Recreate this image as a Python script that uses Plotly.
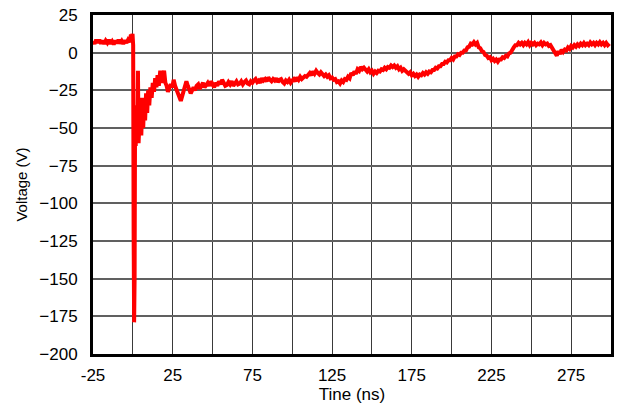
import plotly.graph_objects as go

# Early part of the record: pre-trigger baseline, spike and ringing (ns, V)
time_early = [
    -25, -24, -23, -22, -21, -20, -19, -18, -17, -16, -15, -14, -13, -12, -11, -10,
    -9, -8, -7, -6, -5, -4, -3, -2, -1.2, -0.6, -0.2, 0.2, 0.5, 0.8, 1.1, 1.4, 1.8,
    2.3, 2.8, 3.2, 3.6, 4.2, 4.8, 5.3, 5.9, 6.5, 7.1, 7.7, 8.3, 9, 9.6, 10.3, 11,
    11.8, 12.5, 13.3, 14, 14.8, 15.5, 16.3, 17.2, 18, 18.8, 19.6, 20.4, 21.2, 22,
    22.9, 23.8, 24.7, 25.6, 26.5, 27.4, 28.3, 29.2, 30.1, 30.9, 31.8, 32.7, 33.6,
    34.5, 35.4, 36.3, 37.2, 38.1, 39, 40, 41, 42, 43, 44, 45, 46, 47, 48, 49, 50,
    51, 52, 53, 54, 55, 56, 57, 58, 59,
]
volt_early = [
    7.5, 6, 8.5, 6.5, 8.5, 6, 8, 5.8, 8, 6.5, 8.5, 6, 7.5, 5.5, 8, 6.2,
    8.5, 6.2, 7.8, 5.8, 8.2, 6.5, 8.5, 7, 12, 9, 12.5, 5, -120, -179, -150, -40, -62,
    -35, -58, -12, -60, -45, -30, -55, -35, -50, -30, -45, -27, -40, -25, -35, -23,
    -30, -20, -26, -17, -23, -15, -22, -12, -20, -16, -12, -20, -22, -26,
    -24, -21, -23, -18, -22, -25, -28, -31, -32, -29, -25, -22, -19,
    -22, -25, -27, -25, -23, -25, -22, -21, -24, -22, -20, -23, -21, -20, -22, -19, -21,
    -23, -20, -22, -19, -21, -18, -21, -22,
]

# Later part, one reading per ns from 60 to 300 ns (V)
time_late = list(range(60, 301))
volt_late = [
    -21.5, -19.5, -21, -19, -22, -20, -19, -21, -20.5, -19, -21, -19.5, -18.5, -20.5, -21, -19,
    -20, -18.5, -17.5, -19.5, -18.5, -20, -17, -18.5, -17.5, -19, -16.5, -18, -19, -17.5, -18.5, -17,
    -19.5, -18, -17.5, -19.5, -20.5, -18.5, -19.5, -18, -20, -18.5, -17.5, -19, -16.5, -18, -16, -17.5,
    -16.5, -15.5, -16, -14.5, -13.5, -15, -12.5, -14, -12, -13.5, -14.5, -13, -14, -15.5, -14.5, -16,
    -15, -17, -16.5, -18, -17.5, -19.5, -19, -20.5, -18.5, -19.5, -17.5, -18, -16, -17, -13.5, -15,
    -12.5, -14, -11, -12, -9.5, -11, -10, -11.5, -12.5, -11, -13, -12, -14, -12.5, -13.5, -12,
    -12.5, -11, -11.5, -10, -11, -9.5, -10, -8.5, -9.5, -8.5, -10, -9, -11, -10, -12, -11,
    -12.5, -13, -14, -13, -15, -14, -15.5, -14.5, -16, -14.5, -15, -13.5, -14.5, -13, -14, -12.5,
    -13, -11.5, -11.5, -10, -10.5, -9, -9, -7.5, -7.5, -6, -6.5, -5, -5, -3.5, -4.5, -2.5,
    -2.5, -1, -1.5, 0, 0, 1.5, 1.5, 3.5, 4, 6, 5.5, 7, 5.5, 6.5, 3.5, 3,
    1, 0.5, -1.5, -2, -3.5, -3, -5, -4, -5.5, -4.5, -6, -4.5, -4.5, -3, -3.5, -2,
    -2.5, -0.5, 0, 2.5, 3.5, 5, 5, 6.5, 5.5, 6.5, 5, 6.5, 5.5, 7, 5, 6.5,
    5.5, 6.5, 5, 6, 5.5, 6.8, 5, 6.5, 5.5, 6, 4.5, 5, 3.5, 2, 0, -2,
    1, -1, 2, 0.5, 2, 1.5, 3.5, 2.5, 4.5, 3.5, 5, 4, 5.5, 4.5, 6, 5,
    6.5, 5, 6, 5, 6.8, 5.5, 6.5, 5, 6.5, 5.5, 7, 5.5, 6.5, 5, 6.5, 5,
    6,
]

time_ns = time_early + time_late
voltage_v = volt_early + volt_late

x_tick_vals = [-25, 0, 25, 50, 75, 100, 125, 150, 175, 200, 225, 250, 275, 300]
x_tick_text = ["-25", "", "25", "", "75", "", "125", "", "175", "", "225", "", "275", ""]
y_tick_vals = [-200, -175, -150, -125, -100, -75, -50, -25, 0, 25]

fig = go.Figure()
fig.add_trace(go.Scatter(
    x=time_ns, y=voltage_v, mode="lines",
    line=dict(color="#ff0000", width=4),
    showlegend=False,
))

font_family = "Liberation Sans, Arial, sans-serif"
fig.update_layout(
    width=619, height=409,
    margin=dict(l=93, r=5, t=15, b=55),
    paper_bgcolor="white", plot_bgcolor="white",
    font=dict(family=font_family, size=17, color="black"),
)
fig.update_xaxes(
    range=[-25, 300], tickvals=x_tick_vals, ticktext=x_tick_text,
    showgrid=True, gridcolor="#3a3a3a", gridwidth=1.2,
    showline=True, linecolor="black", linewidth=3, mirror=True,
    ticks="outside", ticklen=4, tickcolor="rgba(0,0,0,0)", zeroline=False,
    title=dict(text="Tine (ns)", standoff=2, font=dict(size=17)),
    tickfont=dict(size=17),
)
fig.update_yaxes(
    range=[-200, 25], tickvals=y_tick_vals,
    showgrid=True, gridcolor="#606060", gridwidth=1.5,
    showline=True, linecolor="black", linewidth=3, mirror=True,
    ticks="outside", ticklen=9, tickcolor="rgba(0,0,0,0)", zeroline=False,
    title=dict(text="Voltage (V)", standoff=9, font=dict(size=15)),
    tickfont=dict(size=17),
)

fig.write_html("out.html")
